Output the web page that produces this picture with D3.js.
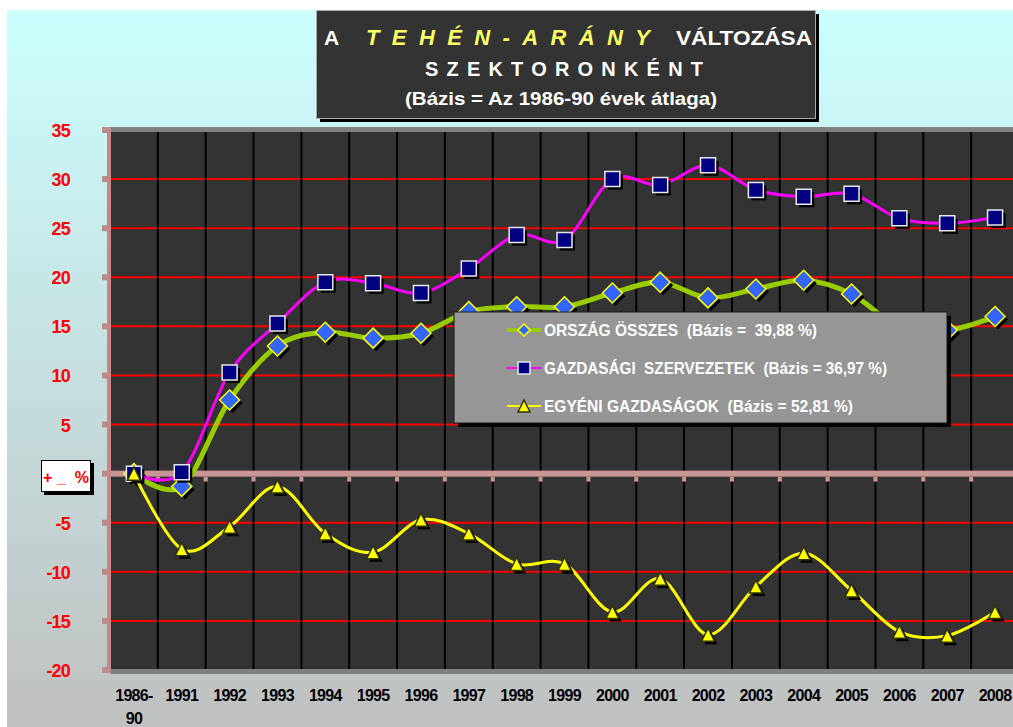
<!DOCTYPE html>
<html>
<head>
<meta charset="utf-8">
<script src="https://cdn.jsdelivr.net/npm/d3@7"></script>
<style>
    body { margin: 0; background: #ffffff; }
    svg { display: block; font-family: "Liberation Sans", Arial, sans-serif; }
</style>
</head>
<body>
<div id="chart"></div>
<script>
var years = ["1986-90", "1991", "1992", "1993", "1994", "1995", "1996", "1997", "1998", "1999",
    "2000", "2001", "2002", "2003", "2004", "2005", "2006", "2007", "2008"];

// ORSZÁG ÖSSZES
var orszag = [0, -1.3, 7.5, 13.0, 14.4, 13.8, 14.3, 16.5, 17.0, 17.0,
    18.4, 19.5, 17.9, 18.8, 19.7, 18.3, 14.9, 14.6, 16.0];
// GAZDASÁGI SZERVEZETEK
var gazdasagi = [0, 0.15, 10.3, 15.3, 19.5, 19.4, 18.4, 20.9, 24.3, 23.8,
    30.0, 29.4, 31.4, 28.9, 28.2, 28.5, 26.0, 25.5, 26.1];
// EGYÉNI GAZDASÁGOK
var egyeni = [0, -7.7, -5.4, -1.3, -6.1, -8.0, -4.7, -6.1, -9.2, -9.2,
    -14.1, -10.7, -16.4, -11.5, -8.1, -11.9, -16.1, -16.5, -14.1];

var yTicks = [35, 30, 25, 20, 15, 10, 5, 0, -5, -10, -15, -20];
var legendLabels = ["ORSZÁG ÖSSZES  (Bázis =  39,88 %)",
    "GAZDASÁGI  SZERVEZETEK  (Bázis = 36,97 %)",
    "EGYÉNI GAZDASÁGOK  (Bázis = 52,81 %)"];

(function () {
    var width = 1013,
        height = 727;

    var plotLeft = 111,
        plotRight = 1019,
        plotTop = 130,
        plotBottom = 670;

    var svg = d3.select("#chart")
        .append("svg")
        .attr("width", width)
        .attr("height", height);

    var defs = svg.append("defs");
    var grad = defs.append("linearGradient")
        .attr("id", "bg")
        .attr("x1", 0).attr("y1", 0)
        .attr("x2", 0).attr("y2", 1);
    grad.append("stop").attr("offset", "0%").attr("stop-color", "#ccffff");
    grad.append("stop").attr("offset", "100%").attr("stop-color", "#c0c0c0");

    svg.append("rect")
        .attr("x", 7).attr("y", 10)
        .attr("width", width - 7).attr("height", height - 10)
        .attr("fill", "url(#bg)");

    var x = d3.scaleBand().domain(years).range([110, plotRight]);
    var y = d3.scaleLinear().domain([-20, 35]).range([plotBottom, plotTop]);

    function cx(i) { return x(years[i]) + x.bandwidth() / 2; }

    // plot area
    svg.append("rect")
        .attr("x", plotLeft).attr("y", plotTop)
        .attr("width", width - plotLeft).attr("height", plotBottom - plotTop)
        .attr("fill", "#333333");
    svg.append("rect")
        .attr("x", plotLeft).attr("y", y(35) - 3)
        .attr("width", width - plotLeft).attr("height", 5)
        .attr("fill", "#808080");
    svg.append("rect")
        .attr("x", plotLeft).attr("y", y(-20) - 1)
        .attr("width", width - plotLeft).attr("height", 5)
        .attr("fill", "#808080");

    // red gridlines
    svg.selectAll(".grid-h")
        .data(yTicks.filter(function (d) { return d !== 0 && d !== 35 && d !== -20; }))
        .enter().append("line")
        .attr("class", "grid-h")
        .attr("x1", plotLeft).attr("x2", width)
        .attr("y1", function (d) { return y(d); })
        .attr("y2", function (d) { return y(d); })
        .attr("stroke", "#ff0000")
        .attr("stroke-width", 2);

    // vertical category lines
    svg.selectAll(".grid-v")
        .data(years.slice(1))
        .enter().append("line")
        .attr("class", "grid-v")
        .attr("x1", function (d) { return x(d); })
        .attr("x2", function (d) { return x(d); })
        .attr("y1", y(35) + 2).attr("y2", y(-20) - 1)
        .attr("stroke", "#000000")
        .attr("stroke-width", 2);

    // zero axis band with ticks
    svg.append("rect")
        .attr("x", plotLeft).attr("y", y(0) - 3)
        .attr("width", width - plotLeft).attr("height", 6)
        .attr("fill", "#c89494");
    svg.selectAll(".zero-tick")
        .data(years.slice(1))
        .enter().append("rect")
        .attr("class", "zero-tick")
        .attr("x", function (d) { return x(d) - 2; })
        .attr("y", y(0) + 3)
        .attr("width", 4).attr("height", 5)
        .attr("fill", "#c89494");

    // left axis
    svg.append("rect")
        .attr("x", 107).attr("y", y(35) - 3)
        .attr("width", 4).attr("height", y(-20) - y(35) + 6)
        .attr("fill", "#c08888");
    svg.selectAll(".y-tick")
        .data(yTicks)
        .enter().append("rect")
        .attr("class", "y-tick")
        .attr("x", 102).attr("y", function (d) { return y(d) - 3; })
        .attr("width", 9).attr("height", 6)
        .attr("fill", "#c08888");
    svg.selectAll(".y-label")
        .data(yTicks.filter(function (d) { return d !== 0; }))
        .enter().append("text")
        .attr("class", "y-label")
        .attr("x", 70)
        .attr("y", function (d) { return y(d) + 7; })
        .attr("text-anchor", "end")
        .attr("fill", "#ff0000")
        .attr("font-weight", "bold")
        .attr("font-size", 18)
        .attr("letter-spacing", -0.8)
        .text(function (d) { return d; });

    // x labels
    var xl = svg.selectAll(".x-label")
        .data(years)
        .enter().append("text")
        .attr("class", "x-label")
        .attr("x", function (d, i) { return cx(i); })
        .attr("y", 701)
        .attr("text-anchor", "middle")
        .attr("fill", "#000000")
        .attr("font-weight", "bold")
        .attr("font-size", 16)
        .attr("letter-spacing", -0.7);
    xl.each(function (d) {
        var parts = d.indexOf("-") > 0 ? [d.split("-")[0] + "-", d.split("-")[1]] : [d];
        var t = d3.select(this);
        parts.forEach(function (p, k) {
            t.append("tspan")
                .attr("x", t.attr("x"))
                .attr("dy", k === 0 ? 0 : 23)
                .text(p);
        });
    });

    // series
    var line = d3.line()
        .x(function (d, i) { return cx(i); })
        .y(function (d) { return y(d); })
        .curve(d3.curveCardinal.tension(0));

    function diamond(s) {
        return "M0," + (-s) + "L" + s + ",0L0," + s + "L" + (-s) + ",0Z";
    }
    function square(s) {
        return "M" + (-s) + "," + (-s) + "h" + (2 * s) + "v" + (2 * s) + "h" + (-2 * s) + "Z";
    }
    function triangle(s) {
        return "M0," + (-s) + "L" + s + "," + s + "L" + (-s) + "," + s + "Z";
    }

    var series = [
        {values: orszag, color: "#99cc00", lw: 5, shape: diamond, size: 10, fill: "#3366ff", stroke: "#ffff00", legendSize: 6},
        {values: gazdasagi, color: "#ff00ff", lw: 3, shape: square, size: 7.5, fill: "#000080", stroke: "#e8e8e8", legendSize: 6},
        {values: egyeni, color: "#ffff00", lw: 3, shape: triangle, size: 6.5, fill: "#ffff00", stroke: "#333300", legendSize: 6}
    ];

    series.forEach(function (s) {
        svg.append("path")
            .datum(s.values)
            .attr("d", line)
            .attr("fill", "none")
            .attr("stroke", s.color)
            .attr("stroke-width", s.lw);

        var g = svg.append("g");
        g.selectAll(".shadow")
            .data(s.values)
            .enter().append("path")
            .attr("class", "shadow")
            .attr("transform", function (d, i) { return "translate(" + (cx(i) + 3) + "," + (y(d) + 3) + ")"; })
            .attr("d", s.shape(s.size))
            .attr("fill", "#000000");
        g.selectAll(".marker")
            .data(s.values)
            .enter().append("path")
            .attr("class", "marker")
            .attr("transform", function (d, i) { return "translate(" + cx(i) + "," + y(d) + ")"; })
            .attr("d", s.shape(s.size))
            .attr("fill", s.fill)
            .attr("stroke", s.stroke)
            .attr("stroke-width", 1.5);
    });

    // legend
    var lg = svg.append("g");
    lg.append("rect")
        .attr("x", 458).attr("y", 316)
        .attr("width", 493).attr("height", 111)
        .attr("fill", "#000000");
    lg.append("rect")
        .attr("x", 454).attr("y", 312)
        .attr("width", 493).attr("height", 111)
        .attr("fill", "#969696")
        .attr("stroke", "#1a1a1a")
        .attr("stroke-width", 1);

    var rowY = [330, 368, 406];
    var textLen = [273, 343, 309];
    series.forEach(function (s, k) {
        lg.append("line")
            .attr("x1", 507).attr("x2", 541)
            .attr("y1", rowY[k]).attr("y2", rowY[k])
            .attr("stroke", s.color)
            .attr("stroke-width", s.lw - 1);
        lg.append("path")
            .attr("transform", "translate(524," + rowY[k] + ")")
            .attr("d", s.shape(s.legendSize))
            .attr("fill", s.fill)
            .attr("stroke", s.stroke)
            .attr("stroke-width", 1.5);
        lg.append("text")
            .attr("x", 544)
            .attr("y", rowY[k] + 6)
            .attr("fill", "#ffffff")
            .attr("font-weight", "bold")
            .attr("font-size", 16)
            .attr("textLength", textLen[k])
            .attr("lengthAdjust", "spacingAndGlyphs")
            .style("white-space", "pre")
            .text(legendLabels[k]);
    });

    // "+ _ %" box
    svg.append("rect")
        .attr("x", 44).attr("y", 463)
        .attr("width", 50).attr("height", 32)
        .attr("fill", "#000000");
    svg.append("rect")
        .attr("x", 41.5).attr("y", 460.5)
        .attr("width", 49).attr("height", 31)
        .attr("fill", "#ffffff")
        .attr("stroke", "#000000")
        .attr("stroke-width", 1);
    svg.append("text")
        .attr("x", 66).attr("y", 483)
        .attr("text-anchor", "middle")
        .attr("fill", "#ff0000")
        .attr("font-weight", "bold")
        .attr("font-size", 16)
        .style("white-space", "pre")
        .text("+ _  %");

    // title box
    svg.append("rect")
        .attr("x", 320).attr("y", 14)
        .attr("width", 499).attr("height", 108)
        .attr("fill", "#000000");
    svg.append("rect")
        .attr("x", 316.5).attr("y", 10.5)
        .attr("width", 499).attr("height", 108)
        .attr("fill", "#333333")
        .attr("stroke", "#aaaaaa")
        .attr("stroke-width", 1);

    svg.append("text")
        .attr("x", 324).attr("y", 45)
        .attr("fill", "#ffffff").attr("font-weight", "bold").attr("font-size", 21)
        .text("A");
    svg.append("text")
        .attr("x", 366).attr("y", 45)
        .attr("fill", "#ffff66").attr("font-weight", "bold").attr("font-style", "italic")
        .attr("font-size", 22)
        .attr("textLength", 284).attr("lengthAdjust", "spacing")
        .text("TEHÉN-ARÁNY");
    svg.append("text")
        .attr("x", 676).attr("y", 45)
        .attr("fill", "#ffffff").attr("font-weight", "bold").attr("font-size", 21)
        .attr("textLength", 136).attr("lengthAdjust", "spacingAndGlyphs")
        .text("VÁLTOZÁSA");
    svg.append("text")
        .attr("x", 425).attr("y", 76)
        .attr("fill", "#ffffff").attr("font-weight", "bold").attr("font-size", 20)
        .attr("textLength", 278).attr("lengthAdjust", "spacing")
        .text("SZEKTORONKÉNT");
    svg.append("text")
        .attr("x", 405).attr("y", 105)
        .attr("fill", "#ffffff").attr("font-weight", "bold").attr("font-size", 19)
        .attr("textLength", 312).attr("lengthAdjust", "spacingAndGlyphs")
        .text("(Bázis = Az 1986-90 évek átlaga)");
})();
</script>
</body>
</html>
